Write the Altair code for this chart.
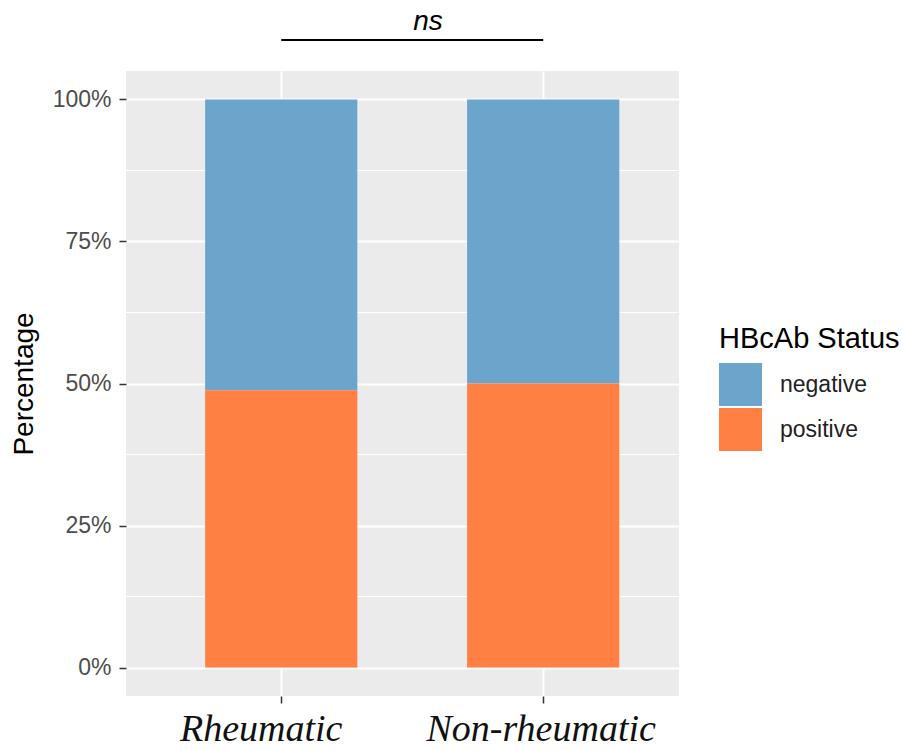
import altair as alt
import pandas as pd

groups = ["Rheumatic", "Non-rheumatic"]
status = ["negative", "positive"]
negative_share = [0.512, 0.500]
positive_share = [0.488, 0.500]
colors = ["#6CA5CC", "#FF8042"]
y_ticks = [0, 0.25, 0.5, 0.75, 1.0]
minor_grid = [0.125, 0.375, 0.625, 0.875]
sig_label = "ns"
sig_level = 1.1046

rows = []
for g, n, p in zip(groups, negative_share, positive_share):
    rows.append({"group": g, "status": "negative", "value": n})
    rows.append({"group": g, "status": "positive", "value": p})
bars_df = pd.DataFrame(rows)
minor_df = pd.DataFrame({"value": minor_grid})
sig_df = pd.DataFrame({"group": groups, "value": [sig_level, sig_level]})

xscale = alt.Scale(domain=groups, paddingInner=0.419, paddingOuter=0.265, align=0.57)
yscale = alt.Scale(domain=[-0.05, 1.05], nice=False, zero=False)

xaxis = alt.Axis(
    title=None, grid=True, gridColor="white", gridWidth=2, bandPosition=0.5,
    domain=False, ticks=True, tickColor="#333333", tickWidth=1.5, tickSize=7,
    labelFont="Liberation Serif", labelFontStyle="italic", labelFontSize=38,
    labelColor="#111111", labelPadding=7, labelAngle=0, labelLimit=0,
    labelOffset={"condition": {"test": "datum.value === 'Rheumatic'", "value": -20}, "value": -2},
)
yaxis = alt.Axis(
    title="Percentage", values=y_ticks, format=".0%", grid=True, gridColor="white",
    gridWidth=2, domain=False, tickColor="#333333", tickWidth=1.5, tickSize=7,
    labelFont="Liberation Sans", labelFontSize=23, labelColor="#4D4D4D", labelPadding=8,
    titleFont="Liberation Sans", titleFontSize=28, titleFontWeight="normal",
    titleColor="black", titleX=-102, titleBaseline="middle", titleAngle=270,
)

minor = alt.Chart(minor_df).mark_rule(color="white", strokeWidth=1.1).encode(
    y=alt.Y("value:Q", scale=yscale, title="Percentage")
)

bars = alt.Chart(bars_df).mark_bar(strokeWidth=0).encode(
    x=alt.X("group:N", scale=xscale, axis=xaxis, sort=groups),
    y=alt.Y("value:Q", scale=yscale, axis=yaxis, stack="zero"),
    color=alt.Color(
        "status:N",
        scale=alt.Scale(domain=status, range=colors),
        legend=alt.Legend(
            title="HBcAb Status", orient="none", legendX=593, legendY=254,
            titleFont="Liberation Sans", titleFontSize=29, titleFontWeight="normal",
            titleColor="black", titlePadding=9, padding=0, titleLimit=0, labelLimit=0,
            labelFont="Liberation Sans", labelFontSize=23, labelColor="#222222",
            labelOffset=18, symbolType="square", symbolSize=1849,
            symbolStrokeWidth=0, rowPadding=2,
        ),
    ),
    order=alt.Order("status:N", sort="descending"),
)

sig_line = alt.Chart(sig_df).mark_line(color="black", strokeWidth=2).encode(
    x=alt.X("group:N", scale=xscale, sort=groups),
    y=alt.Y("value:Q", scale=yscale, title="Percentage"),
)

sig_text = alt.Chart(pd.DataFrame({"label": [sig_label]})).mark_text(
    font="Liberation Sans", fontSize=28, fontStyle="italic", color="black",
    baseline="alphabetic", align="center"
).encode(text="label:N", x=alt.value(302), y=alt.value(-41))

chart = alt.layer(minor, bars, sig_line, sig_text).properties(
    width=553, height=625,
    padding={"left": 126, "top": 71, "right": 223, "bottom": 54},
    autosize=alt.AutoSizeParams(type="none"),
    background="white",
).configure_view(fill="#EBEBEB", stroke=None)

chart.save("out.html", embed_options={"renderer": "svg", "actions": False})
